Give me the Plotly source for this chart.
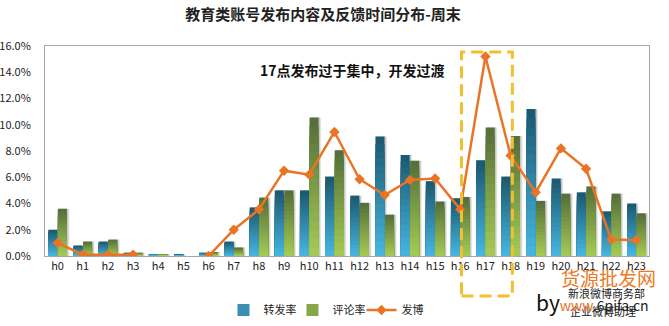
import plotly.graph_objects as go

# Hourly distribution for education accounts at weekends (values in %)
hours = [f"h{i}" for i in range(24)]
repost_rate = [2.0, 0.8, 1.1, 0.25, 0.15, 0.1, 0.25, 1.1, 3.7, 5.0, 5.0, 6.05,
               4.6, 9.1, 7.7, 5.7, 4.4, 7.3, 6.05, 11.2, 5.9, 4.85, 3.4, 4.0]
comment_rate = [3.6, 1.1, 1.25, 0.25, 0.15, 0.0, 0.3, 0.65, 4.45, 5.0, 10.55, 8.05,
                4.05, 3.15, 7.25, 4.15, 4.5, 9.8, 9.15, 4.2, 4.75, 5.3, 4.75, 3.25]
posts = [1.0, 0.1, 0.1, 0.1, None, None, 0.0, 2.0, 3.55, 6.5, 6.2, 9.45,
         5.85, 4.65, 5.8, 5.9, 3.55, 15.2, 7.65, 4.85, 8.2, 6.65, 1.25, 1.2]

y_ticks = [0, 2, 4, 6, 8, 10, 12, 14, 16]

FONT = "Noto Sans CJK SC"
N_LAYERS = 16
BAR_W = 0.36

# plot area in pixels
PL, PR, PT, PB = 45, 649, 46, 256


def px(xp):
    return (xp - PL) / (PR - PL)


def py(yp):
    return (PB - yp) / (PB - PT)


def hex_rgb(h):
    h = h.lstrip("#")
    return tuple(int(h[i:i + 2], 16) for i in (0, 2, 4))


def lerp(c1, c2, t):
    a, b = hex_rgb(c1), hex_rgb(c2)
    return "rgb({},{},{})".format(*[round(a[i] + (b[i] - a[i]) * t) for i in range(3)])


fig = go.Figure()


def gradient_bars(values, offset, top, bottom, name, legend_color):
    # soft drop shadow behind each bar
    for dx, alpha in ((0.10, 0.12), (0.06, 0.18)):
        fig.add_trace(go.Bar(x=hours, y=values, offset=offset + dx, width=BAR_W,
                             marker=dict(color=f"rgba(60,60,60,{alpha})", line_width=0),
                             showlegend=False, hoverinfo="skip"))
    # vertical gradient: stacked layers, each shorter and lighter
    for k in range(N_LAYERS):
        frac = (N_LAYERS - k) / N_LAYERS
        fig.add_trace(go.Bar(x=hours, y=[v * frac for v in values], offset=offset,
                             width=BAR_W,
                             marker=dict(color=lerp(top, bottom, k / (N_LAYERS - 1)),
                                         line_width=0),
                             showlegend=False, hoverinfo="skip"))
    # legend entry
    fig.add_trace(go.Bar(x=hours, y=[None] * len(hours), name=name,
                         marker=dict(color=legend_color, line_width=0)))


gradient_bars(repost_rate, -0.37, "#1c5a72", "#46b4de", "转发率", "#3a8fb2")
gradient_bars(comment_rate, 0.01, "#55703a", "#a4c952", "评论率", "#86a64a")

fig.add_trace(go.Scatter(x=hours, y=posts, name="发博", mode="lines+markers",
                         connectgaps=False,
                         line=dict(color="#ea7424", width=2.5),
                         marker=dict(symbol="diamond", size=8, color="#ea7424")))

# dashed highlight around the 17:00 peak
fig.add_shape(type="rect", xref="x", yref="paper", x0=16.05, x1=18.07,
              y0=py(296), y1=py(52), layer="above",
              line=dict(color="#f0c030", width=3, dash="12px,6px"))


def note(text, x, y, size, color, anchor="center"):
    fig.add_annotation(text=text, xref="paper", yref="paper", x=px(x), y=py(y),
                       xanchor=anchor, yanchor="middle", showarrow=False,
                       font=dict(family=FONT, size=size, color=color))


note("<b>17点发布过于集中，开发过渡</b>", 352, 70, 14, "#111111")

# source credit and stamp
note("货源批发网", 608, 277, 19, "#ec7a22")
note("新浪微博商务部", 606, 293, 11, "#222222")
note("企业微博助理", 603, 311, 11, "#222222")
note("<span style='font-size:21px;color:#111'>by</span>"
     "<span style='color:#e87222'>www</span>.6pifa.cn", 534, 302, 14, "#222222",
     anchor="left")

fig.update_layout(
    width=669, height=326,
    margin=dict(l=PL, r=669 - PR, t=PT, b=326 - PB, autoexpand=False),
    paper_bgcolor="white", plot_bgcolor="white",
    barmode="overlay",
    title=dict(text="<b>教育类账号发布内容及反馈时间分布-周末</b>",
               x=323 / 669, xanchor="center", xref="container",
               y=1 - 15 / 326, yanchor="middle", yref="container",
               font=dict(family=FONT, size=15, color="#222222")),
    font=dict(family=FONT, size=11, color="#222222"),
    showlegend=True,
    legend=dict(orientation="h", x=px(327), xanchor="center",
                y=py(310), yanchor="middle",
                font=dict(family=FONT, size=11, color="#222222"),
                itemwidth=30, entrywidth=24, entrywidthmode="pixels",
                traceorder="normal", bgcolor="rgba(0,0,0,0)"),
)

fig.update_xaxes(type="category", range=[-0.5, 23.5], showgrid=False,
                 showline=True, linecolor="#a6a6a6", linewidth=1, mirror=True,
                 ticks="", tickfont=dict(family=FONT, size=11, color="#222222"))
fig.update_yaxes(range=[0, 16], tickvals=y_ticks,
                 ticktext=[f"{v:.1f}%" for v in y_ticks], showgrid=False,
                 zeroline=False, showline=True, linecolor="#a6a6a6", linewidth=1,
                 mirror=True, ticks="", ticklabelstandoff=11,
                 tickfont=dict(family=FONT, size=11, color="#222222"))

fig.write_html("out.html")
